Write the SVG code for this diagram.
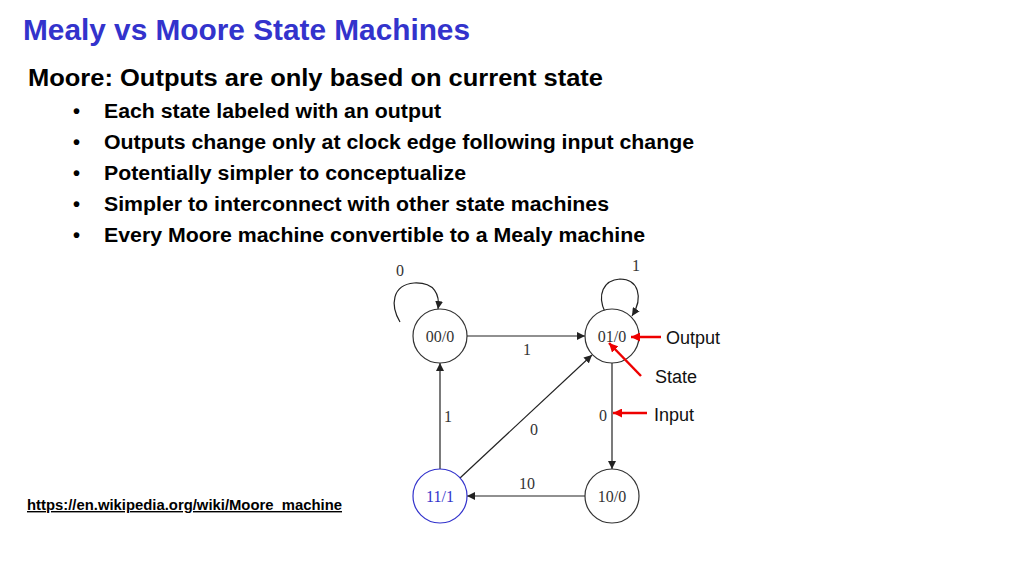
<svg xmlns="http://www.w3.org/2000/svg" width="1024" height="576" viewBox="0 0 1024 576">
<style>
.t{font-family:"Liberation Sans",Arial,sans-serif;font-weight:bold;fill:#000}
.s{font-family:"Liberation Serif","Times New Roman",serif;font-size:16px;fill:#333;text-anchor:middle}
.n{fill:#fff;stroke:#333;stroke-width:1.2}
.e{fill:none;stroke:#222;stroke-width:1.2;marker-end:url(#a)}
.r{stroke:#e00;stroke-width:2.5;marker-end:url(#ra)}
.l{font-family:"Liberation Sans",Arial,sans-serif;font-size:18px;fill:#111}
</style>
<defs>
<marker id="a" viewBox="0 0 10 10" refX="10" refY="5" markerWidth="8" markerHeight="8" markerUnits="userSpaceOnUse" orient="auto"><path d="M0,0L10,5L0,10z" fill="#222"/></marker>
<marker id="ra" viewBox="0 0 10 10" refX="10" refY="5" markerWidth="9" markerHeight="9" markerUnits="userSpaceOnUse" orient="auto"><path d="M0,0L10,5L0,10z" fill="#e00"/></marker>
</defs>
<rect width="1024" height="576" fill="#fff"/>
<text x="23" y="40" class="t" style="font-size:29px;fill:#3333cc" textLength="447" lengthAdjust="spacingAndGlyphs">Mealy vs Moore State Machines</text>
<text x="28" y="86" class="t" style="font-size:23px" textLength="575" lengthAdjust="spacingAndGlyphs">Moore: Outputs are only based on current state</text>
<g class="t" style="font-size:20px">
<text x="73" y="118">•</text><text x="104" y="118" textLength="337" lengthAdjust="spacingAndGlyphs">Each state labeled with an output</text>
<text x="73" y="149">•</text><text x="104" y="149" textLength="590" lengthAdjust="spacingAndGlyphs">Outputs change only at clock edge following input change</text>
<text x="73" y="180">•</text><text x="104" y="180" textLength="362" lengthAdjust="spacingAndGlyphs">Potentially simpler to conceptualize</text>
<text x="73" y="211">•</text><text x="104" y="211" textLength="505" lengthAdjust="spacingAndGlyphs">Simpler to interconnect with other state machines</text>
<text x="73" y="242">•</text><text x="104" y="242" textLength="541" lengthAdjust="spacingAndGlyphs">Every Moore machine convertible to a Mealy machine</text>
</g>
<text x="27" y="510" class="t" style="font-size:14px;text-decoration:underline" textLength="315" lengthAdjust="spacingAndGlyphs">https://en.wikipedia.org/wiki/Moore_machine</text>
<g id="connectors">
<path class="e" d="M400,322 C390,305 392,285 414,283 C435,282 440,295 438,309"/>
<path class="e" d="M605,312 C597,295 603,280 620,279 C638,279 644,297 632,316"/>
<path class="e" d="M467,336 L585,336"/>
<path class="e" d="M612,363 L612,469"/>
<path class="e" d="M585,496 L467,496"/>
<path class="e" d="M440,469 L440,363"/>
<path class="e" d="M460,478 L592,355"/>
</g>
<g class="s">
<text x="400" y="276">0</text>
<text x="636" y="271">1</text>
<text x="527" y="355">1</text>
<text x="448" y="422">1</text>
<text x="534" y="435">0</text>
<text x="603" y="421">0</text>
<text x="527" y="489">10</text>
</g>
<g id="n00"><circle class="n" cx="440" cy="336" r="27"/><text class="s" x="440" y="342">00/0</text></g>
<g id="n01"><circle class="n" cx="612" cy="336" r="27"/><text class="s" x="612" y="342">01/0</text></g>
<g id="n11"><circle class="n" cx="440" cy="496" r="27" style="stroke:#33c"/><text class="s" x="440" y="502" style="fill:#33c">11/1</text></g>
<g id="n10"><circle class="n" cx="612" cy="496" r="27"/><text class="s" x="612" y="502">10/0</text></g>
<g id="annotations">
<path class="r" d="M661,337 L631,337"/>
<path class="r" d="M641,376 L609,343"/>
<path class="r" d="M647,413 L613,413"/>
</g>
<text class="l" x="666" y="344">Output</text>
<text class="l" x="655" y="383">State</text>
<text class="l" x="654" y="421">Input</text>
</svg>
